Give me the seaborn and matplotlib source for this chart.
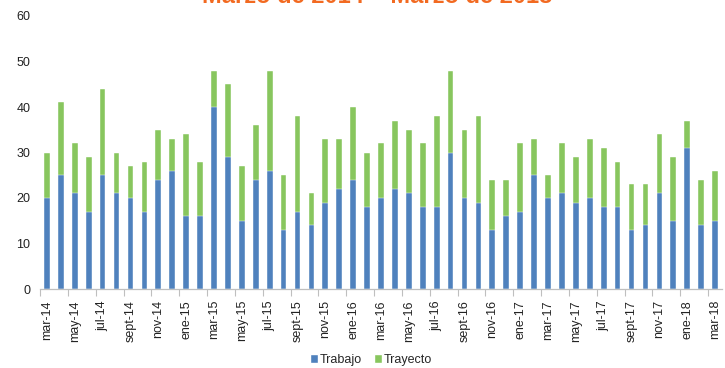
import matplotlib
matplotlib.use("Agg")
import matplotlib.pyplot as plt
from matplotlib.patches import Patch
import seaborn as sns
import pandas as pd

# Monthly categories, March 2014 to March 2018
meses = ["mar", "abr", "may", "jun", "jul", "ago", "sept", "oct", "nov", "dic", "ene", "feb"]
periodos = []
anio = 14
for i in range(49):
    m = meses[i % 12]
    if m == "ene":
        anio += 1
    periodos.append(f"{m}-{anio}")

trabajo = [20, 25, 21, 17, 25, 21, 20, 17, 24, 26,
           16, 16, 40, 29, 15, 24, 26, 13, 17, 14,
           19, 22, 24, 18, 20, 22, 21, 18, 18, 30,
           20, 19, 13, 16, 17, 25, 20, 21, 19, 20,
           18, 18, 13, 14, 21, 15, 31, 14, 15]
trayecto = [10, 16, 11, 12, 19, 9, 7, 11, 11, 7,
            18, 12, 8, 16, 12, 12, 22, 12, 21, 7,
            14, 11, 16, 12, 12, 15, 14, 14, 20, 18,
            15, 19, 11, 8, 15, 8, 5, 11, 10, 13,
            13, 10, 10, 9, 13, 14, 6, 10, 11]

titulo = "Marzo de 2014 – Marzo de 2018"
yticks = [0, 10, 20, 30, 40, 50, 60]

df = pd.DataFrame({"periodo": periodos, "Trabajo": trabajo, "Trayecto": trayecto})
df["total"] = df["Trabajo"] + df["Trayecto"]

AZUL = "#4F81BD"
VERDE = "#88C65E"

sns.set_theme(style="white")
plt.rcParams["font.family"] = ["Liberation Sans", "DejaVu Sans"]

fig = plt.figure(figsize=(7.25, 3.68), dpi=100)
ax = fig.add_axes([40 / 725, 1 - 289 / 368, 682 / 725, 273 / 368])

# stacked bars: full height in green, work accidents in blue on top of it
sns.barplot(data=df, x="periodo", y="total", color=VERDE, width=0.41,
            saturation=1, order=periodos, ax=ax, edgecolor="white", linewidth=0.3)
sns.barplot(data=df, x="periodo", y="Trabajo", color=AZUL, width=0.41,
            saturation=1, order=periodos, ax=ax, edgecolor="white", linewidth=0.3)

ax.set_xlim(-0.5, len(periodos) - 0.5)
ax.set_ylim(0, 60)
ax.set_yticks(yticks)
ax.set_yticklabels([str(v) for v in yticks], fontsize=9, color="#222222")
ax.set_xticks(range(0, len(periodos), 2))
ax.set_xticklabels(periodos[::2], rotation=90, fontsize=9, color="#222222")
ax.set_xticks([i - 0.5 for i in range(0, len(periodos), 2)], minor=True)
ax.tick_params(axis="x", which="major", length=0, pad=8)
ax.tick_params(axis="x", which="minor", length=5, width=0.8, color="#BFBFBF", bottom=True)
ax.tick_params(axis="y", length=0, pad=7)
ax.set_xlabel("")
ax.set_ylabel("")
for s in ["top", "right", "left"]:
    ax.spines[s].set_visible(False)
ax.spines["bottom"].set_color("#BFBFBF")
ax.spines["bottom"].set_linewidth(0.9)

fig.text(0.52, 1 - 3 / 368, titulo, ha="center", va="baseline",
         fontsize=17, fontweight="bold", color="#F26A21")

handles = [Patch(facecolor=AZUL, label="Trabajo"), Patch(facecolor=VERDE, label="Trayecto")]
fig.legend(handles=handles, loc="center", bbox_to_anchor=(371 / 725, 1 - 360 / 368),
           ncol=2, frameon=False, fontsize=9, handlelength=0.7, handleheight=0.7,
           handletextpad=0.15, columnspacing=0.9, borderpad=0)

fig.savefig("out.png", dpi=100)
